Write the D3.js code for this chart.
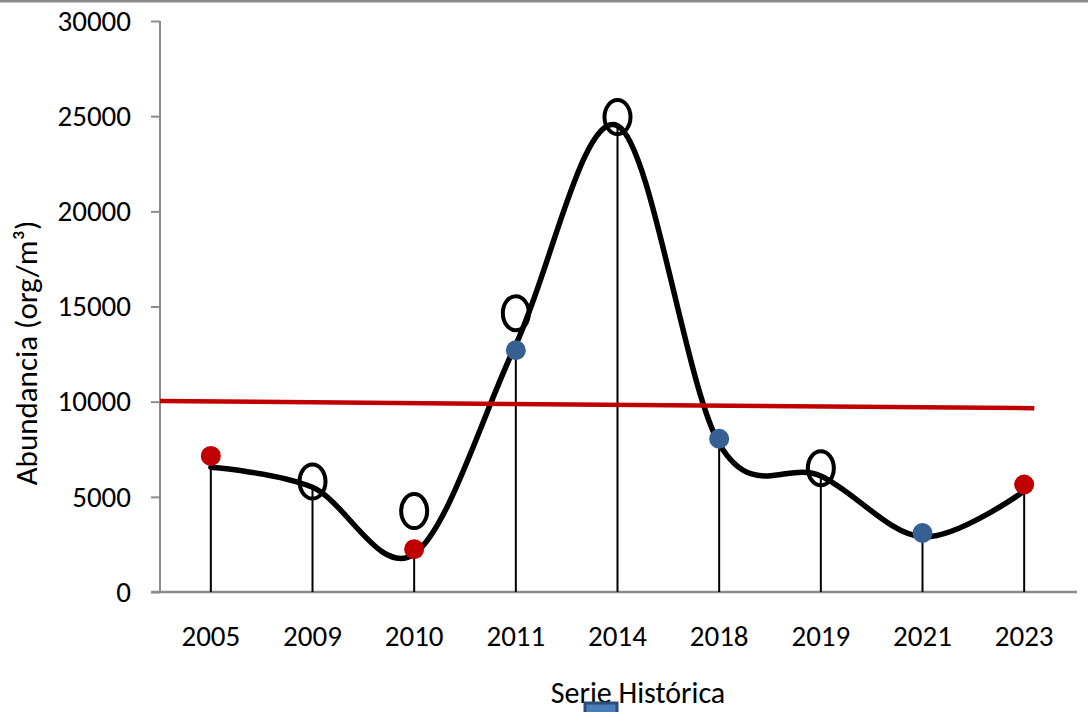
<!DOCTYPE html>
<html>
<head>
<meta charset="utf-8">
<script src="https://cdn.jsdelivr.net/npm/d3@7"></script>
<style>
  body { margin: 0; background: #fff; }
  text { font-family: Calibri, Carlito, "Open Sans", sans-serif; fill: #000; }
</style>
</head>
<body>
<div id="chart"></div>
<script>
// data
var years = ['2005', '2009', '2010', '2011', '2014', '2018', '2019', '2021', '2023'];
var abundance = [6550, 5500, 2000, 13000, 24500, 7800, 6100, 2900, 5300];
var redPoints = [['2005', 7150], ['2010', 2250], ['2023', 5650]];
var bluePoints = [['2011', 12700], ['2018', 8050], ['2021', 3100]];
var openPoints = [['2009', 5800], ['2010', 4250], ['2011', 14650], ['2014', 24950], ['2019', 6500]];
var trendValues = [10030, 9660];   // trend line at its two ends
var trendIndex = [-0.5, 8.1];      // where the trend line starts / stops (category index)
var yTicks = [0, 5000, 10000, 15000, 20000, 25000, 30000];

var width = 1088, height = 712;
var plot = { left: 160, right: 1075, top: 21, bottom: 592 };

var svg = d3.select('#chart').append('svg')
  .attr('width', width)
  .attr('height', height);

var x = d3.scaleBand().domain(years).range([plot.left, plot.right]).padding(0);
var xi = d3.scaleLinear().domain([-0.5, years.length - 0.5]).range([plot.left, plot.right]);
var y = d3.scaleLinear().domain([0, 30000]).range([plot.bottom, plot.top]);
function cx(d) { return x(d) + x.bandwidth() / 2; }

// border line on top
svg.append('line')
  .attr('x1', 0).attr('x2', width).attr('y1', 1).attr('y2', 1)
  .attr('stroke', '#8c8c8c').attr('stroke-width', 3);

// y axis
var yAxis = svg.append('g')
  .attr('transform', 'translate(' + plot.left + ',0)')
  .call(d3.axisLeft(y).tickValues(yTicks).tickSize(9).tickPadding(20).tickFormat(d3.format('d')));
yAxis.selectAll('path, line').attr('stroke', '#8c8c8c').attr('stroke-width', 2);
yAxis.select('.domain').attr('d', 'M0,' + plot.top + 'V' + plot.bottom);
yAxis.selectAll('text').attr('font-size', 29).style('font-family', null);

// x axis
var xAxis = svg.append('g')
  .attr('transform', 'translate(0,' + plot.bottom + ')')
  .call(d3.axisBottom(x).tickSize(0).tickPadding(33));
xAxis.select('.domain').attr('d', 'M' + (plot.left - 9) + ',0H' + (plot.right + 2))
  .attr('stroke', '#8c8c8c').attr('stroke-width', 2.5);
xAxis.selectAll('text').attr('font-size', 29).style('font-family', null);

// drop lines
svg.append('g').selectAll('line')
  .data(years)
  .enter().append('line')
  .attr('x1', cx).attr('x2', cx)
  .attr('y1', function (d, i) { return y(abundance[i]); })
  .attr('y2', y(0))
  .attr('stroke', '#000').attr('stroke-width', 2);

// smoothed series
var line = d3.line()
  .x(function (d, i) { return cx(years[i]); })
  .y(function (d) { return y(d); })
  .curve(d3.curveCardinal.tension(0));

svg.append('path')
  .datum(abundance)
  .attr('d', line)
  .attr('fill', 'none')
  .attr('stroke', '#000')
  .attr('stroke-width', 5.5)
  .attr('stroke-linecap', 'round');

// trend line
svg.append('line')
  .attr('x1', xi(trendIndex[0])).attr('x2', xi(trendIndex[1]))
  .attr('y1', y(trendValues[0])).attr('y2', y(trendValues[1]))
  .attr('stroke', '#c00000').attr('stroke-width', 4.5);

// red & blue markers
svg.append('g').selectAll('circle')
  .data(redPoints)
  .enter().append('circle')
  .attr('cx', function (d) { return cx(d[0]); })
  .attr('cy', function (d) { return y(d[1]); })
  .attr('r', 10)
  .attr('fill', '#c00000');

svg.append('g').selectAll('circle')
  .data(bluePoints)
  .enter().append('circle')
  .attr('cx', function (d) { return cx(d[0]); })
  .attr('cy', function (d) { return y(d[1]); })
  .attr('r', 10)
  .attr('fill', '#376092');

// open markers
svg.append('g').selectAll('ellipse')
  .data(openPoints)
  .enter().append('ellipse')
  .attr('cx', function (d) { return cx(d[0]); })
  .attr('cy', function (d) { return y(d[1]); })
  .attr('rx', 13)
  .attr('ry', 17)
  .attr('fill', 'none')
  .attr('stroke', '#000')
  .attr('stroke-width', 4);

// axis titles
svg.append('text')
  .attr('transform', 'translate(37,353) rotate(-90)')
  .attr('text-anchor', 'middle')
  .attr('font-size', 31)
  .text('Abundancia (org/m³)');

svg.append('text')
  .attr('x', 638).attr('y', 703)
  .attr('text-anchor', 'middle')
  .attr('font-size', 30)
  .text('Serie Histórica');

// legend marker peeking in at the bottom
svg.append('rect')
  .attr('x', 585).attr('y', 703)
  .attr('width', 32).attr('height', 32)
  .attr('fill', '#4a7ebb')
  .attr('stroke', '#2c4d75')
  .attr('stroke-width', 3);
</script>
</body>
</html>
